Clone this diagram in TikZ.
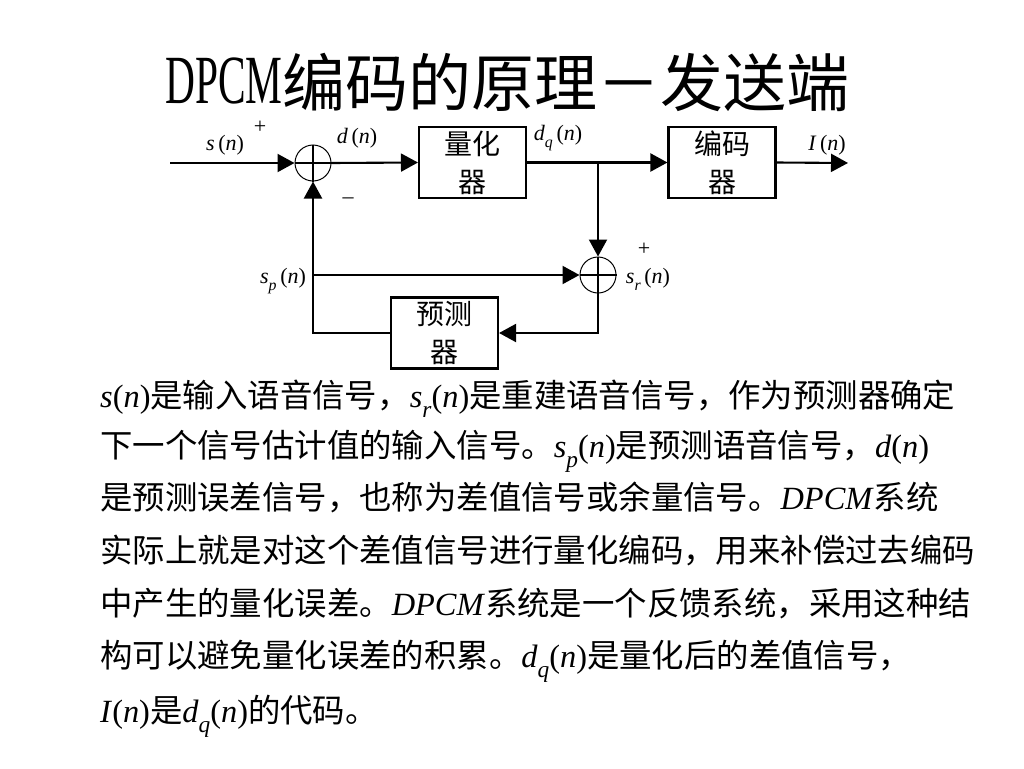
\documentclass[tikz,border=0pt]{standalone}
\usepackage{fontspec}
\setmainfont{Liberation Serif}
\newfontfamily\cjk{Noto Sans CJK SC}
\usetikzlibrary{arrows.meta}
\newcommand\sbs[1]{\raisebox{-0.32em}{\scalebox{0.72}{\textit{#1}}}}
\newcommand\nn{(\textit{n})}
\tikzset{
  arr/.style={line width=2.1pt,-{Triangle[length=17pt,width=18pt]}},
  ln/.style={line width=2.1pt},
  blk/.style={draw,line width=2.1pt,minimum width=107pt,minimum height=71pt,inner sep=0pt,
     align=center,font=\cjk\fontsize{28}{38}\selectfont},
  sumc/.style={draw,circle,line width=1pt,minimum size=36pt,inner sep=0pt},
  lbl/.style={font=\fontsize{22}{22}\selectfont,inner sep=0pt},
  body/.style={anchor=base west,inner sep=0pt,font=\fontsize{32.4}{32.4}\selectfont},
}
\begin{document}
\begin{tikzpicture}[x=1pt,y=-1pt]
\useasboundingbox[fill=white] (0,0) rectangle (1024,768);
% title
\node[anchor=base west,inner sep=0pt] (title) at (165,106)
  {\raisebox{2pt}{\scalebox{0.6}[1]{\fontsize{69}{69}\selectfont DPCM}}{\cjk\fontsize{63}{63}\selectfont 编码的原理－发送端}};
% blocks
\node[blk] (q) at (472.5,162.5) {量化\\器};
\node[blk] (enc) at (722,162.5) {编码\\器};
\node[blk] (p) at (444.5,333) {预测\\器};
\node[sumc] (s1) at (313,163) {};
\node[sumc] (s2) at (598,275) {};
\draw[ln] (s1.north) -- (s1.south) (s1.west) -- (s1.east);
\draw[ln] (s2.north) -- (s2.south) (s2.west) -- (s2.east);
\coordinate (in) at (170,163);
\coordinate (out) at (848,163);
\coordinate (br) at (598,163);
\coordinate (spj) at (313,275);
% connectors
\draw[arr] (in) -- (s1.west);
\draw[arr] (s1.east) -- (q.west);
\draw[arr] (q.east) -- (enc.west);
\draw[arr] (enc.east) -- (out);
\draw[arr] (br) -- (s2.north);
\draw[arr] (s2.south) |- (p.east);
\draw[arr] (p.west) -| (s1.south);
\draw[arr] (spj) -- (s2.west);
% labels
\node[lbl] (ls) at (225,145) {\textit{s}\,(\textit{n})};
\node[lbl] (lp1) at (260,127) {+};
\node[lbl] (lm1) at (348,201) {\textendash};
\node[lbl] (ld) at (357,138) {\textit{d}\,(\textit{n})};
\node[lbl] (ldq) at (558,138) {\textit{d}\sbs{q}\,(\textit{n})};
\node[lbl] (lI) at (827,145) {\textit{I}\,(\textit{n})};
\node[lbl] (lp2) at (644,249) {+};
\node[lbl] (lsr) at (648,279) {\textit{s}\sbs{r}\,(\textit{n})};
\node[lbl] (lsp) at (283,281) {\textit{s}\sbs{p}\,(\textit{n})};
% body text
\node[body] (t1) at (100,407) {\textit{s}\nn{\cjk 是输入语音信号，}\textit{s}\sbs{r}\nn{\cjk 是重建语音信号，作为预测器确定}};
\node[body] (t2) at (100,457) {{\cjk 下一个信号估计值的输入信号。}\textit{s}\sbs{p}\nn{\cjk 是预测语音信号，}\textit{d}\nn};
\node[body] (t3) at (100,509) {{\cjk 是预测误差信号，也称为差值信号或余量信号。}\textit{DPCM}{\cjk 系统}};
\node[body] (t4) at (100,562) {{\cjk 实际上就是对这个差值信号进行量化编码，用来补偿过去编码}};
\node[body] (t5) at (100,615) {{\cjk 中产生的量化误差。}\textit{DPCM}{\cjk 系统是一个反馈系统，采用这种结}};
\node[body] (t6) at (100,667) {{\cjk 构可以避免量化误差的积累。}\textit{d}\sbs{q}\nn{\cjk 是量化后的差值信号，}};
\node[body] (t7) at (100,722) {\textit{I}\nn{\cjk 是}\textit{d}\sbs{q}\nn{\cjk 的代码。}};
\end{tikzpicture}
\end{document}
